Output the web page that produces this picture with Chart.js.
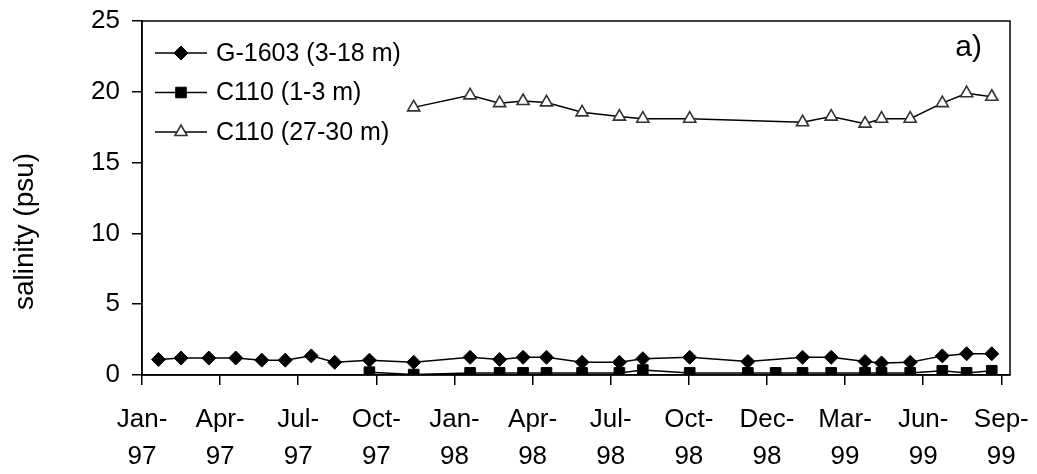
<!DOCTYPE html>
<html>
<head>
<meta charset="utf-8">
<script src="https://cdn.jsdelivr.net/npm/chart.js@4.4.1/dist/chart.umd.min.js"></script>
<style>
html,body{margin:0;padding:0;background:#fff;}
#wrap{width:1037px;height:474px;position:relative;}
</style>
</head>
<body>
<div id="wrap"><canvas id="c"></canvas></div>
<script>
// ---- data ----
const sampleDates = [
  '1997-01-29','1997-02-24','1997-03-28','1997-04-28','1997-05-28','1997-06-24','1997-07-24','1997-08-20',
  '1997-09-29','1997-11-19','1998-01-23','1998-02-26','1998-03-25','1998-04-21','1998-06-01','1998-07-14',
  '1998-08-10','1998-10-03','1998-12-09','1999-01-10','1999-02-10','1999-03-15','1999-04-23','1999-05-12',
  '1999-06-14','1999-07-21','1999-08-18','1999-09-16'
];
const g1603 = [1.1,1.2,1.2,1.2,1.05,1.05,1.35,0.9,1.05,0.9,1.25,1.1,1.25,1.25,0.9,0.9,1.15,1.25,0.95,null,1.25,1.25,0.95,0.85,0.9,1.35,1.5,1.5];
const c110Surface = [null,null,null,null,null,null,null,null,0.2,0.03,0.15,0.15,0.15,0.15,0.15,0.15,0.35,0.15,0.15,0.15,0.15,0.15,0.15,0.15,0.15,0.3,0.15,0.3];
const c110Deep = [null,null,null,null,null,null,null,null,null,18.9,19.75,19.2,19.35,19.25,18.55,18.25,18.1,18.1,null,null,17.85,18.25,17.75,18.1,18.1,19.2,19.9,19.65];
const seriesLabels = ['G-1603 (3-18 m)','C110 (1-3 m)','C110 (27-30 m)'];
const tickLabels = ['Jan-97','Apr-97','Jul-97','Oct-97','Jan-98','Apr-98','Jul-98','Oct-98','Dec-98','Mar-99','Jun-99','Sep-99'];
const yTitle = 'salinity (psu)';
const panelTag = 'a)';

// axis configuration (date axis in days)
const axisStart = '1997-01-10';
const tickStepDays = 90;
const axisSpanDays = 1000;

const FONT = "'Liberation Sans', Arial, sans-serif";

function dayOf(s){ return (Date.parse(s) - Date.parse(axisStart)) / 86400000; }
function pts(vals){
  const out = [];
  sampleDates.forEach((d,i)=>{ if(vals[i]!=null) out.push({x: dayOf(d), y: vals[i]}); });
  return out;
}

const styles = [
  {pointStyle:'rectRot', pointRadius:7, pointBackgroundColor:'#000', pointBorderColor:'#000', pointBorderWidth:1},
  {pointStyle:'rect', pointRadius:7.5, pointBackgroundColor:'#000', pointBorderColor:'#000', pointBorderWidth:1},
  {pointStyle:'triangle', pointRadius:7, pointBackgroundColor:'#fff', pointBorderColor:'#333', pointBorderWidth:1.6}
];
const seriesVals = [g1603, c110Surface, c110Deep];

const datasets = seriesVals.map((v,i)=>Object.assign({
  label: seriesLabels[i],
  data: pts(v),
  borderColor:'#000',
  borderWidth:1.5,
  tension:0,
  fill:false,
  pointHoverRadius:7
}, styles[i]));

function drawMarker(ctx, st, x, y){
  const r = st.pointRadius;
  ctx.save();
  ctx.fillStyle = st.pointBackgroundColor;
  ctx.strokeStyle = st.pointBorderColor;
  ctx.lineWidth = st.pointBorderWidth;
  ctx.beginPath();
  if(st.pointStyle==='rectRot'){
    ctx.moveTo(x, y-r); ctx.lineTo(x+r, y); ctx.lineTo(x, y+r); ctx.lineTo(x-r, y); ctx.closePath();
  } else if(st.pointStyle==='rect'){
    const s = r*Math.SQRT1_2;
    ctx.rect(x-s, y-s, 2*s, 2*s);
  } else {
    const h = Math.sin(Math.PI/3)*r;
    ctx.moveTo(x, y-r); ctx.lineTo(x+h, y+r/2); ctx.lineTo(x-h, y+r/2); ctx.closePath();
  }
  ctx.fill(); ctx.stroke();
  ctx.restore();
}

const decorPlugin = {
  id:'decor',
  afterDraw(chart){
    const ctx = chart.ctx, a = chart.chartArea;
    ctx.save();
    // frame
    ctx.strokeStyle = '#000'; ctx.lineWidth = 1.5;
    ctx.strokeRect(a.left, a.top, a.right-a.left, a.bottom-a.top);
    // legend inside plot
    ctx.font = '25px ' + FONT;
    ctx.textBaseline = 'middle';
    ctx.textAlign = 'left';
    ctx.fillStyle = '#000';
    chart.data.datasets.forEach((ds,i)=>{
      const y = a.top + 32 + i*39.5;
      const x0 = a.left + 13, x1 = a.left + 65;
      ctx.strokeStyle = '#000'; ctx.lineWidth = 1.5;
      ctx.beginPath(); ctx.moveTo(x0,y); ctx.lineTo(x1,y); ctx.stroke();
      drawMarker(ctx, styles[i], (x0+x1)/2, y);
      ctx.fillStyle = '#000';
      ctx.fillText(ds.label, x1 + 9, y + 1);
    });
    // panel tag
    ctx.font = '30px ' + FONT;
    ctx.textAlign = 'right';
    ctx.textBaseline = 'alphabetic';
    ctx.fillText(panelTag, a.right - 28, a.top + 35);
    // y title
    ctx.font = '28px ' + FONT;
    ctx.translate(33, 310);
    ctx.rotate(-Math.PI/2);
    ctx.textAlign = 'left';
    ctx.textBaseline = 'alphabetic';
    ctx.fillText(yTitle, 0, 0);
    ctx.restore();
  }
};

new Chart(document.getElementById('c'), {
  type:'line',
  data:{ datasets },
  options:{
    responsive:true,
    maintainAspectRatio:false,
    animation:false,
    layout:{ padding:{ left:0, right:27, top:21, bottom:0 } },
    plugins:{ legend:{display:false}, tooltip:{enabled:false} },
    scales:{
      x:{
        type:'linear',
        min:0,
        max:axisSpanDays,
        afterBuildTicks:(scale)=>{ scale.ticks = tickLabels.map((l,i)=>({value:i*tickStepDays})); },
        afterFit:(scale)=>{ scale.height = 99; scale.paddingLeft = 0; scale.paddingRight = 0; },
        grid:{ drawOnChartArea:false, drawTicks:true, tickLength:10, color:'#000', lineWidth:1.5 },
        border:{ display:true, color:'#000', width:1.5 },
        ticks:{
          autoSkip:false, maxRotation:0, minRotation:0, padding:16,
          color:'#000',
          font:{ family:FONT, size:26, lineHeight:1.42 },
          callback:(v,i)=>{ const p = tickLabels[i].split('-'); return [p[0]+'-', p[1]]; }
        }
      },
      y:{
        min:0, max:25,
        afterFit:(scale)=>{ scale.width = 142; scale.paddingTop = 0; scale.paddingBottom = 0; },
        grid:{ drawOnChartArea:false, drawTicks:true, tickLength:10, color:'#000', lineWidth:1.5 },
        border:{ display:true, color:'#000', width:1.5 },
        ticks:{ stepSize:5, padding:12, color:'#000', font:{ family:FONT, size:26 } }
      }
    }
  },
  plugins:[decorPlugin]
});
</script>
</body>
</html>
